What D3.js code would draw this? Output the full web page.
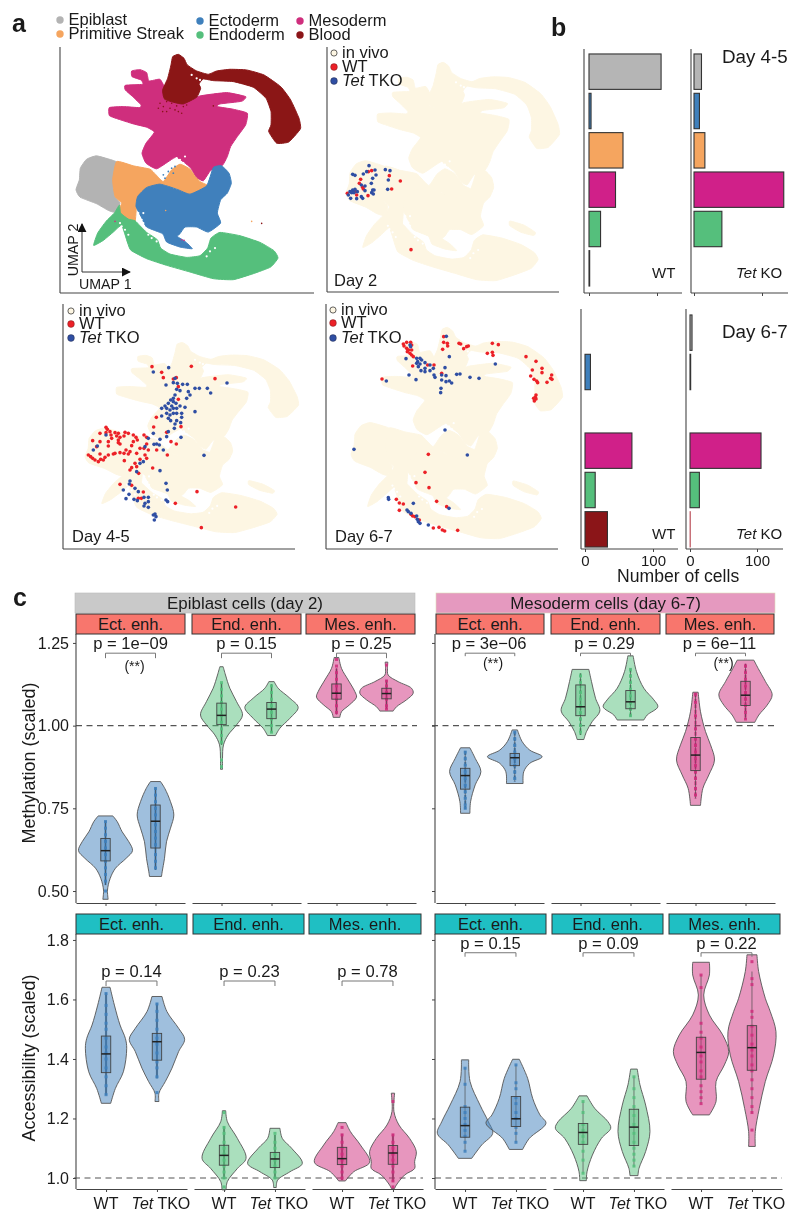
<!DOCTYPE html>
<html><head><meta charset="utf-8">
<script src="https://cdn.jsdelivr.net/npm/d3@7"></script>
<style>html,body{margin:0;padding:0;background:#fff}svg{display:block;filter:blur(.3px)}text{font-family:"Liberation Sans",Arial,sans-serif;fill:#1a1a1a}</style>
</head><body><div id="c"></div>
<script>
// ---------- panel a: cell-type regions in UMAP units ----------
const cellTypes=["Epiblast","Primitive Streak","Ectoderm","Endoderm","Mesoderm","Blood"];
const cellColors={"Epiblast":"#B3B3B3","Primitive Streak":"#F5A55F","Ectoderm":"#3F80BC","Endoderm":"#55BF7C","Mesoderm":"#CF2E7D","Blood":"#8B1518"};
const regionEpiblast=[[290,468],[340,482],[352,490],[340,540],[345,590],[360,610],[345,637],[325,632],[290,612],[240,592],[228,570],[238,540],[241,505],[260,478]];
const regionStreak=[[350,485],[400,498],[450,508],[468,525],[490,545],[515,510],[540,493],[570,508],[600,545],[628,560],[590,582],[560,587],[530,567],[490,557],[440,567],[420,590],[410,615],[405,667],[385,662],[353,640],[365,610],[345,590],[338,540]];
const regionMesoderm=[[395,213],[420,209],[440,218],[447,243],[480,238],[497,270],[492,298],[550,308],[600,288],[680,278],[737,290],[725,304],[660,312],[652,320],[700,328],[742,340],[737,375],[712,410],[692,440],[682,470],[667,497],[632,512],[610,543],[590,532],[570,502],[530,472],[510,482],[470,507],[438,490],[426,460],[438,430],[463,397],[440,382],[400,372],[350,356],[328,347],[328,323],[370,320],[418,323],[423,315],[398,290],[376,270],[376,256],[428,253],[423,240],[396,230]];
const regionEctoderm=[[640,503],[665,498],[687,520],[694,550],[682,580],[662,600],[652,640],[662,670],[625,697],[590,682],[555,682],[540,702],[532,710],[555,725],[577,747],[540,742],[500,727],[488,702],[440,682],[423,650],[408,620],[413,590],[440,563],[480,553],[530,568],[570,583],[620,558]];
const regionEndoderm=[[358,616],[343,640],[318,665],[293,700],[281,737],[310,722],[340,697],[365,677],[383,730],[393,752],[440,777],[500,797],[570,817],[640,837],[700,840],[760,822],[812,802],[834,775],[822,753],[780,728],[720,708],[660,698],[633,715],[623,745],[600,768],[560,773],[510,763],[482,745],[472,720],[440,698],[420,678],[405,663],[385,658],[362,640]];
const regionBlood=[[535,163],[518,170],[513,195],[503,235],[488,270],[493,297],[520,307],[550,312],[590,292],[602,265],[597,252],[610,237],[640,242],[700,245],[760,262],[798,295],[813,335],[813,375],[806,395],[830,430],[865,427],[887,405],[902,385],[897,355],[872,300],[842,260],[792,225],[740,210],[690,208],[650,213],[625,223],[590,213],[562,195],[552,175]];
const regionStrip=[[745,655],[790,668],[825,690],[820,700],[780,690],[745,670]];
const speckBlood=[[480,310],[490,320],[500,305],[510,325],[525,330],[535,335],[550,320],[545,340],[560,315],[475,325],[488,335],[515,310],[530,318],[500,335],[785,671],[640,318]];
const speckHoles=[[540,480],[550,490],[520,490],[555,470],[530,475],[365,680],[375,690],[385,705],[360,670],[445,705],[455,715],[470,725],[415,640],[425,660],[430,640],[430,670],[590,235],[600,240],[575,225],[620,770],[630,755],[645,745],[565,695],[575,690]];
const speckBlue=[[515,505],[505,515],[525,500],[495,535],[520,520],[490,525]];
const speckOrange=[[755,665],[497,632]];
const speckPink=[[345,665],[545,720],[552,722]];

// ---------- single-cell projections per timepoint ----------
const day2WT=[[142,580],[182,538],[178,550],[188,562],[205,515],[215,512],[268,527],[301,543],[275,567],[204,587],[170,585],[158,575],[333,749],[165,575],[190,567]];
const day2TKO=[[207,497],[158,523],[165,526],[190,522],[200,515],[225,510],[228,525],[218,535],[256,509],[270,512],[265,540],[263,568],[214,550],[195,558],[184,555],[195,572],[218,570],[222,570],[215,578],[220,582],[165,568],[158,570],[150,575],[155,578],[145,585],[152,595],[170,596],[184,590],[188,595],[172,575],[162,578]];
const day45WT=[[456,200],[574,199],[485,217],[490,233],[529,233],[520,237],[645,236],[535,260],[535,298],[469,352],[461,381],[543,380],[502,465],[591,575],[526,610],[707,621],[604,683],[395,556],[360,553],[430,576],[415,595],[424,595],[458,504],[410,500],[416,520],[513,425],[529,432],[500,397],[318,382],[322,388],[330,395],[345,398],[355,400],[375,397],[385,400],[300,400],[318,398],[333,405],[350,408],[360,412],[372,408],[400,405],[408,412],[432,405],[440,412],[278,422],[300,425],[325,425],[335,415],[355,420],[400,425],[412,420],[290,440],[325,438],[360,432],[395,437],[378,450],[440,432],[432,445],[445,450],[470,450],[420,445],[265,465],[272,470],[278,475],[285,480],[295,485],[302,478],[315,472],[325,465],[345,460],[360,458],[372,460],[385,462],[390,455],[410,460],[435,465],[420,478],[373,482],[440,475],[405,490],[395,503],[390,510],[355,428],[300,462],[310,480],[340,462]];
const day45TKO=[[506,203],[460,216],[525,235],[520,248],[532,250],[498,255],[548,253],[562,253],[530,268],[540,272],[585,265],[598,265],[622,265],[632,279],[681,249],[565,275],[570,285],[525,285],[520,295],[560,295],[512,300],[505,310],[520,305],[528,310],[515,318],[495,318],[485,325],[500,325],[510,330],[520,325],[530,325],[540,318],[555,322],[585,335],[500,340],[485,348],[510,345],[520,340],[530,340],[545,340],[545,352],[505,355],[512,362],[530,362],[542,368],[525,372],[523,385],[505,395],[543,412],[500,410],[480,418],[460,400],[445,415],[470,432],[478,435],[462,433],[435,440],[490,450],[612,466],[318,405],[292,438],[280,450],[430,485],[420,490],[480,512],[410,515],[390,543],[498,550],[502,570],[388,552],[405,565],[415,575],[370,570],[387,583],[378,596],[402,598],[412,602],[432,592],[445,592],[445,605],[435,610],[432,618],[445,622],[498,600],[503,605],[460,645],[465,642],[463,660],[468,650]];
const day67WT=[[401,110],[401,127],[412,130],[413,138],[398,148],[447,130],[452,132],[461,146],[470,140],[475,138],[547,130],[565,134],[532,160],[547,157],[549,166],[648,170],[678,184],[696,205],[667,210],[696,218],[725,225],[722,235],[726,238],[662,228],[672,238],[680,243],[683,248],[711,247],[678,285],[676,292],[671,295],[678,297],[673,303],[372,195],[353,195],[395,220],[308,198],[216,237],[280,132],[290,127],[302,127],[305,135],[282,138],[290,145],[296,150],[305,150],[292,155],[300,160],[305,165],[310,170],[355,463],[345,517],[318,548],[357,563],[259,598],[268,609],[280,612],[268,631],[380,604],[410,620],[303,643],[308,648],[370,684],[387,682],[397,690],[404,693],[443,691],[315,650],[328,660]];
const day67TKO=[[409,109],[418,170],[288,176],[302,140],[300,135],[320,175],[330,175],[335,180],[323,185],[320,190],[330,192],[345,188],[360,195],[370,205],[325,200],[345,205],[360,212],[333,212],[345,215],[405,203],[556,192],[297,225],[318,239],[229,243],[372,225],[375,232],[395,225],[408,227],[395,240],[408,245],[418,243],[425,249],[440,223],[450,222],[480,232],[507,235],[393,265],[392,278],[405,390],[132,448],[472,465],[235,593],[236,598],[310,610],[291,630],[295,635],[303,640],[320,648],[322,658],[325,665],[330,670],[355,675],[417,625]];

// ---------- panel b: number of cells ----------
const barCategories=["Epiblast","Ectoderm","Primitive Streak","Mesoderm","Endoderm","Blood"];
const barDay45WT=[106,3,50,39,17,1];
const barDay45KO=[11,8,16,132,41,null];
const barDay67WT=[null,8,null,69,15,33];
const barDay67KO=[3,1,null,106,14,0.5];
const barColors=["#B5B5B5","#3F80BC","#F5A55F","#D02089","#55BF7C","#8B1518"];

// ---------- panel c: violins. y = profile values, w = profile half width, box = [q3,median,q1,whiskerHigh,whiskerLow] ----------
const groupLabels=["WT","Tet TKO"];
const methEpiEct=[
 {y:[.727,.710,.679,.649,.622,.599,.569,.538,.503,.475],w:[22,35,50,70,81,62,30,14,6,8],box:[.659,.622,.591,.712,.518],pts:[.71,.69,.67,.65,.63,.61,.59,.57,.55,.53,.50]},
 {y:[.831,.810,.770,.730,.690,.649,.599,.558,.544],w:[15,28,45,55,45,33,27,20,18],box:[.760,.711,.630,.813,.564],pts:[.81,.79,.77,.75,.73,.70,.68,.66,.64,.61,.59,.57]}];
const methEpiEnd=[
 {y:[1.178,1.153,1.113,1.073,1.032,1.002,.972,.942,.901,.868],w:[5,12,25,45,63,45,20,6,3,3],box:[1.068,1.031,1.003,1.128,.942],pts:[1.13,1.11,1.09,1.07,1.05,1.03,1.01,.99,.97,.95,.896,.876]},
 {y:[1.133,1.113,1.083,1.055,1.022,.992,.970],w:[8,20,55,80,55,25,12],box:[1.070,1.050,1.021,1.125,.979],pts:[1.12,1.10,1.08,1.06,1.04,1.02,1.0,.98]}];
const methEpiMes=[
 {y:[1.206,1.173,1.138,1.103,1.086,1.062,1.042,1.025],w:[7,15,35,55,60,38,15,10],box:[1.126,1.098,1.080,1.173,1.034],pts:[1.20,1.18,1.16,1.14,1.12,1.10,1.08,1.06,1.04]},
 {y:[1.192,1.173,1.153,1.133,1.113,1.098,1.078,1.057,1.044],w:[4,3,5,35,75,80,60,30,20],box:[1.113,1.097,1.081,1.138,1.050],pts:[1.183,1.135,1.12,1.10,1.08,1.06,1.05]}];
const methMesEct=[
 {y:[.933,.901,.861,.821,.770,.735],w:[14,30,47,30,16,14],box:[.871,.849,.808,.923,.748],pts:[.92,.90,.88,.86,.84,.82,.80,.78,.76,.75]},
 {y:[.987,.952,.926,.906,.886,.861,.825],w:[8,22,45,82,45,27,25],box:[.916,.903,.879,.982,.831],pts:[.98,.96,.94,.92,.90,.88,.86,.84]}];
const methMesEnd=[
 {y:[1.170,1.133,1.083,1.044,1.012,.982,.958],w:[25,33,45,58,35,18,10],box:[1.123,1.057,1.030,1.158,.972],pts:[1.15,1.13,1.10,1.08,1.06,1.04,1.02,1.0,.98]},
 {y:[1.211,1.163,1.113,1.078,1.057,1.032,1.017],w:[8,18,40,70,82,50,40],box:[1.106,1.072,1.051,1.173,1.027],pts:[1.17,1.15,1.13,1.11,1.09,1.07,1.05,1.03]}];
const methMesMes=[
 {y:[1.101,1.042,.982,.942,.896,.851,.810,.759],w:[8,15,30,45,57,40,22,15],box:[.964,.911,.864,1.098,.780],pts:[1.095,1.07,1.03,.99,.96,.94,.92,.90,.88,.86,.84,.81,.79]},
 {y:[1.198,1.173,1.133,1.093,1.062,1.032,1.010],w:[25,38,60,80,65,40,28],box:[1.134,1.092,1.061,1.187,1.020],pts:[1.18,1.16,1.14,1.12,1.10,1.08,1.06,1.04,1.02]}];
const accEpiEct=[
 {y:[1.641,1.581,1.514,1.469,1.436,1.357,1.301,1.251],w:[12,25,42,58,62,52,28,14],box:[1.477,1.417,1.354,1.621,1.279],pts:[1.62,1.58,1.55,1.52,1.50,1.47,1.44,1.42,1.40,1.37,1.34,1.31,1.28]},
 {y:[1.610,1.559,1.503,1.466,1.425,1.369,1.324,1.285,1.257],w:[15,30,65,83,65,45,25,6,6],box:[1.486,1.458,1.396,1.587,1.335],pts:[1.585,1.56,1.53,1.50,1.47,1.45,1.42,1.39,1.37,1.34,1.287]}];
const accEpiEnd=[
 {y:[1.226,1.189,1.133,1.066,1.032,.988,.960],w:[5,10,40,66,40,10,6],box:[1.110,1.076,1.043,1.173,.997],pts:[1.22,1.17,1.15,1.12,1.10,1.08,1.06,1.04,1.02,1.0,.97]},
 {y:[1.167,1.133,1.100,1.049,1.021,.993,.968],w:[15,22,50,82,45,8,4],box:[1.086,1.064,1.035,1.145,.999],pts:[1.15,1.12,1.10,1.08,1.06,1.04,1.02,1.0]}];
const accEpiMes=[
 {y:[1.186,1.156,1.111,1.053,1.021,.990],w:[12,25,55,83,35,10],box:[1.103,1.065,1.045,1.148,.993],pts:[1.17,1.145,1.12,1.10,1.08,1.06,1.04,1.02,1.0]},
 {y:[1.285,1.223,1.178,1.133,1.089,1.055,1.032,1.010,.976,.965],w:[5,3,18,50,70,65,65,35,10,5],box:[1.109,1.084,1.046,1.147,.988],pts:[1.257,1.145,1.12,1.10,1.08,1.06,1.04,1.02,.99,.97]}];
const accMesEct=[
 {y:[1.397,1.324,1.245,1.189,1.150,1.111,1.066],w:[11,15,45,70,83,50,20],box:[1.238,1.176,1.137,1.369,1.092],pts:[1.369,1.315,1.24,1.22,1.20,1.18,1.16,1.14,1.12,1.09]},
 {y:[1.399,1.335,1.268,1.212,1.184,1.133,1.096],w:[10,35,50,72,90,40,20],box:[1.274,1.199,1.173,1.380,1.120],pts:[1.38,1.32,1.30,1.27,1.25,1.22,1.20,1.17,1.15,1.12]}];
const accMesEnd=[
 {y:[1.276,1.234,1.189,1.167,1.133,1.077,1.021,.991],w:[12,35,75,83,55,28,12,10],box:[1.183,1.153,1.113,1.257,1.016],pts:[1.257,1.22,1.18,1.16,1.14,1.12,1.09,1.06,1.016]},
 {y:[1.366,1.313,1.245,1.156,1.089,1.032,1.008],w:[10,18,35,48,35,15,12],box:[1.231,1.171,1.109,1.341,1.038],pts:[1.34,1.30,1.27,1.24,1.21,1.18,1.15,1.12,1.10,1.08,1.06,1.04]}];
const accMesMes=[
 {y:[1.725,1.682,1.615,1.548,1.481,1.425,1.380,1.324,1.257,1.212],w:[25,25,8,25,65,83,70,45,45,25],box:[1.473,1.422,1.332,1.682,1.251],pts:[1.682,1.64,1.52,1.49,1.47,1.44,1.41,1.39,1.36,1.34,1.31,1.29,1.27,1.25]},
 {y:[1.750,1.694,1.604,1.559,1.492,1.413,1.324,1.234,1.156,1.106],w:[15,20,40,55,72,65,40,22,10,10],box:[1.512,1.438,1.362,1.694,1.217],pts:[1.727,1.67,1.65,1.56,1.54,1.51,1.48,1.45,1.43,1.41,1.38,1.36,1.33,1.30,1.27,1.24,1.22,1.161]}];
const enhLabels=["Ect. enh.","End. enh.","Mes. enh."];
const pMethEpi=["p = 1e\u221209","p = 0.15","p = 0.25"];
const pMethMes=["p = 3e\u221206","p = 0.29","p = 6e\u221211"];
const pAccEpi=["p = 0.14","p = 0.23","p = 0.78"];
const pAccMes=["p = 0.15","p = 0.09","p = 0.22"];
const starsMethEpi=["(**)",null,null];
const starsMethMes=["(**)",null,"(**)"];
const methTicks=[0.5,0.75,1.0,1.25];
const accTicks=[1.0,1.2,1.4,1.6,1.8];

// ---------- drawing ----------
const svg=d3.select("#c").append("svg").attr("width",800).attr("height",1222);
const defs=svg.append("defs");
const rough=defs.append("filter").attr("id","rough").attr("x","-5%").attr("y","-5%").attr("width","110%").attr("height","110%");
rough.append("feTurbulence").attr("type","fractalNoise").attr("baseFrequency",.8).attr("numOctaves",1).attr("seed",3).attr("result","n");
rough.append("feDisplacementMap").attr("in","SourceGraphic").attr("in2","n").attr("scale",1.3);
const lab=(t,x,y,s,o={})=>{const e=svg.append("text").attr("x",x).attr("y",y).attr("font-size",s).text(t);
 if(o.anchor)e.attr("text-anchor",o.anchor); if(o.bold)e.attr("font-weight","bold"); if(o.rot)e.attr("transform",`rotate(-90 ${x} ${y})`); return e;};
const tet=(x,y,s,rest,anchor)=>{const e=svg.append("text").attr("x",x).attr("y",y).attr("font-size",s);
 if(anchor)e.attr("text-anchor",anchor);
 e.append("tspan").attr("font-style","italic").text("Tet"); e.append("tspan").text(rest); return e;};
const hline=(x1,x2,y,g=svg)=>g.append("line").attr("x1",x1).attr("x2",x2).attr("y1",y).attr("y2",y).attr("stroke","#444").attr("stroke-width",1.1);
const vline=(x,y1,y2,g=svg)=>g.append("line").attr("x1",x).attr("x2",x).attr("y1",y1).attr("y2",y2).attr("stroke","#444").attr("stroke-width",1.1);

lab("a",12,32,25,{bold:true}); lab("b",551,36,25,{bold:true}); lab("c",13,606,25,{bold:true});

// panel a
const ax=d3.scaleLinear().domain([228,900]).range([76,300]);
const ay=d3.scaleLinear().domain([165,838]).range([55,279]);
const poly=(sx,sy)=>d3.line().x(d=>sx(d[0])).y(d=>sy(d[1])).curve(d3.curveCardinalClosed.tension(.55));
const regionsA=svg.append("g").attr("filter","url(#rough)");
[[regionEpiblast,"Epiblast"],[regionStreak,"Primitive Streak"],[regionMesoderm,"Mesoderm"],[regionEndoderm,"Endoderm"],[regionEctoderm,"Ectoderm"],[regionBlood,"Blood"]].forEach(([r,n])=>{
 regionsA.append("path").attr("d",poly(ax,ay)(r)).attr("fill",cellColors[n]).attr("stroke",cellColors[n]).attr("stroke-width",1).attr("stroke-linejoin","round");});
const specks=(data,col,sx,sy,r)=>svg.append("g").selectAll("circle").data(data).join("circle").attr("cx",d=>sx(d[0])).attr("cy",d=>sy(d[1])).attr("r",r).attr("fill",col);
specks(speckHoles,"#fff",ax,ay,1.1); specks(speckBlood,cellColors.Blood,ax,ay,.8); specks(speckBlue,cellColors.Ectoderm,ax,ay,.9); specks(speckOrange,cellColors["Primitive Streak"],ax,ay,.8); specks(speckPink,cellColors.Mesoderm,ax,ay,.8);
vline(60,47,293); hline(60,314,293);
const legendA=[[60,20,cellTypes[0]],[60,34,cellTypes[1]],[200,21,cellTypes[2]],[200,35,cellTypes[3]],[300,21,cellTypes[4]],[300,35,cellTypes[5]]];
legendA.forEach(([x,y,t])=>{svg.append("circle").attr("cx",x).attr("cy",y).attr("r",3.7).attr("fill",cellColors[t]);lab(t,x+8.5,y+5,16.5);});
defs.append("marker").attr("id","arr").attr("viewBox","0 0 10 10").attr("refX",9).attr("refY",5).attr("markerWidth",9).attr("markerHeight",9).attr("markerUnits","userSpaceOnUse").attr("orient","auto").append("path").attr("d","M0,0L10,5L0,10Z").attr("fill","#111");
[[82,272,82,224],[82,272,130,272]].forEach(a=>svg.append("line").attr("x1",a[0]).attr("y1",a[1]).attr("x2",a[2]).attr("y2",a[3]).attr("stroke","#333").attr("stroke-width",1).attr("marker-end","url(#arr)"));
lab("UMAP 1",79,289,14.2); lab("UMAP 2",78,250,14.2,{rot:true,anchor:"middle"});

// projection panels
const panels=[
 {bx:[346,559],by:[63,280],crop:[300,0],wt:day2WT,ko:day2TKO,axX:327,axY:[47,292],axR:559,lg:[334,53,67,81],title:"Day 2",tp:[334,286]},
 {bx:[85,298],by:[343,532],crop:[0,300],wt:day45WT,ko:day45TKO,axX:63,axY:[304,549],axR:295,lg:[71,311,324,338],title:"Day 4-5",tp:[72,542]},
 {bx:[351,562],by:[328,538],crop:[310,300],wt:day67WT,ko:day67TKO,axX:326,axY:[304,549],axR:558,lg:[333,310,323,338],title:"Day 6-7",tp:[335,542]}];
panels.forEach(p=>{
 const sx=d3.scaleLinear().domain([228,900]).range(p.bx), sy=d3.scaleLinear().domain([165,838]).range(p.by);
 const bg=svg.append("g").attr("filter","url(#rough)");
 [regionEpiblast,regionStreak,regionMesoderm,regionEndoderm,regionEctoderm,regionBlood,regionStrip].forEach(r=>
  bg.append("path").attr("d",poly(sx,sy)(r)).attr("fill","#FDF6E3").attr("stroke","#FDF6E3").attr("stroke-width",1).attr("stroke-linejoin","round"));
 specks(speckHoles,"#fff",sx,sy,1.1);
 vline(p.axX,p.axY[0],p.axY[1]); hline(p.axX,p.axR,p.axY[1]);
 const px=d3.scaleLinear().domain([0,3]).range([p.crop[0],p.crop[0]+1]), py=d3.scaleLinear().domain([0,3]).range([p.crop[1],p.crop[1]+1]);
 specks(p.wt,"#EC2027",px,py,1.8); specks(p.ko,"#2F4EA3",px,py,1.8);
 const [lx,y0,y1,y2]=p.lg;
 svg.append("circle").attr("cx",lx).attr("cy",y0).attr("r",3.1).attr("fill","#FDF6E3").attr("stroke","#222").attr("stroke-width",.7);
 svg.append("circle").attr("cx",lx).attr("cy",y1).attr("r",3.4).attr("fill","#EC2027").attr("stroke","#522").attr("stroke-width",.4);
 svg.append("circle").attr("cx",lx).attr("cy",y2).attr("r",3.4).attr("fill","#2F4EA3").attr("stroke","#223").attr("stroke-width",.4);
 lab("in vivo",lx+8,y0+5,16.5); lab("WT",lx+8,y1+5,16.5); tet(lx+8,y2+5,16.5," TKO");
 lab(p.title,p.tp[0],p.tp[1],16.5);
});

// panel b
const barPanels=[
 {v:barDay45WT,x0:589,x100:657,ax:584,top:49,bot:293,right:682,band:[52,288]},
 {v:barDay45KO,x0:694,x100:762,ax:691,top:49,bot:293,right:788,band:[52,288]},
 {v:barDay67WT,x0:585,x100:653,ax:581,top:309,bot:549,right:678,band:[313,549],labels:true},
 {v:barDay67KO,x0:690,x100:757,ax:686,top:309,bot:549,right:783,band:[313,549],labels:true}];
barPanels.forEach(p=>{
 const x=d3.scaleLinear().domain([0,100]).range([p.x0,p.x100]);
 const y=d3.scaleBand().domain(barCategories).range(p.band).paddingInner(.1).paddingOuter(.05);
 barCategories.forEach((c,i)=>{ if(p.v[i]==null)return;
  svg.append("rect").attr("x",x(0)).attr("y",y(c)).attr("width",x(p.v[i])-x(0)).attr("height",y.bandwidth()).attr("fill",barColors[i])
   .attr("stroke",p.v[i]<1?"#C4606A":"#333").attr("stroke-width",p.v[i]<1?.9:1.1);});
 vline(p.ax,p.top,p.bot);
 const g=svg.append("g").attr("transform",`translate(0,${p.bot})`);
 const axis=d3.axisBottom(x).tickValues([0,100]).tickSize(3).tickSizeOuter(0).tickFormat(p.labels?d3.format("d"):"");
 g.call(axis); g.select(".domain").remove(); g.selectAll("line").attr("stroke","#444");
 g.selectAll("text").attr("font-size",15).attr("dy",".75em");
 hline(p.ax,p.right,p.bot);
});
lab("Day 4-5",722,63,18.8); lab("Day 6-7",722,338,18.8);
lab("WT",652,278,15); tet(736,278,15," KO"); lab("WT",652,539,15); tet(736,539,15," KO");
lab("Number of cells",617,582,17.6);

// panel c
const violinColors=["#3F80BC","#55BF7C","#CF2E7D"];
const yMeth=d3.scaleLinear().domain([.4638,1.277]).range([903,634]);
const yAcc=d3.scaleLinear().domain([.963,1.82]).range([1189,934]);
const wScale=d3.scaleLinear().domain([0,83]).range([0,27.67]);
function strip(x0,x1,y0,y1,fill,t,stroke,size){
 svg.append("rect").attr("x",x0).attr("y",y0).attr("width",x1-x0).attr("height",y1-y0).attr("fill",fill).attr("stroke",stroke||"#333").attr("stroke-width",stroke?0.6:1);
 lab(t,(x0+x1)/2,y0+(y1-y0)/2+5.8,size||16.5,{anchor:"middle"});
}
strip(75,415,593,613,"#C9C9C9","Epiblast cells (day 2)","#bbb",16.9);
strip(436,775,593,613,"#E599BF","Mesoderm cells (day 6-7)","#ddb",16.9);

function block(o){
 const y=o.y;
 // dashed reference at 1.0
 o.dash&&svg.append("line").attr("x1",o.dash[0]).attr("x2",o.dash[1]).attr("y1",y(1)).attr("y2",y(1)).attr("stroke","#555").attr("stroke-width",1.1).attr("stroke-dasharray","6 4.5");
 // left axis
 const g=svg.append("g").attr("transform",`translate(${o.axX},0)`);
 g.call(d3.axisLeft(y).tickValues(o.ticks).tickSize(3).tickSizeOuter(0).tickFormat(o.fmt||""));
 g.select(".domain").attr("stroke","#444").attr("stroke-width",1.1).attr("d",`M0,${o.bot}V${o.top}`);
 g.selectAll("line").attr("stroke","#444");
 g.selectAll("text").attr("font-size",16).attr("dx","-1");
 o.panels.forEach((p,k)=>{
  strip(p.s[0],p.s[1],o.stripY[0],o.stripY[1],o.stripFill,enhLabels[k]);
  const x=d3.scalePoint().domain(groupLabels).range(p.r).padding(.59);
  const xa=svg.append("g").attr("transform",`translate(0,${o.bot})`);
  xa.call(d3.axisBottom(x).tickSize(3).tickSizeOuter(0).tickFormat(""));
  xa.select(".domain").attr("stroke","#444").attr("stroke-width",1.1);
  xa.selectAll("line").attr("stroke","#444");
  if(o.xlabels){lab("WT",x("WT"),o.bot+20,16,{anchor:"middle"});tet(x("Tet TKO")+4,o.bot+20,16," TKO","middle");}
  const col=violinColors[k];
  p.data.forEach((v,i)=>{
   const cx=x(groupLabels[i]);
   const rows=v.y.map((d,j)=>({y:d,w:v.w[j]}));
   svg.append("path").datum(rows).attr("d",d3.area().y(d=>y(d.y)).x0(d=>cx-wScale(d.w)).x1(d=>cx+wScale(d.w)).curve(d3.curveCatmullRom.alpha(.5)))
    .attr("fill",col).attr("fill-opacity",.5).attr("stroke","#555").attr("stroke-width",.9);
   const [q3,med,q1,hi,lo]=v.box;
   if(o.style!=="thin") svg.append("line").attr("x1",cx).attr("x2",cx).attr("y1",y(hi)).attr("y2",y(lo)).attr("stroke",col).attr("stroke-width",2.2).attr("stroke-opacity",.85).attr("stroke-dasharray",o.style==="dash"?"4 1.5":null);
   svg.append("line").attr("x1",cx).attr("x2",cx).attr("y1",y(hi)).attr("y2",y(lo)).attr("stroke","#444").attr("stroke-width",.8).attr("stroke-opacity",.8);
   svg.append("g").selectAll("rect").data(v.pts).join("rect").attr("x",cx-1.5).attr("y",d=>y(d)-1.5).attr("width",3).attr("height",3).attr("fill",col).attr("opacity",.85);
   svg.append("rect").attr("x",cx-4.7).attr("width",9.4).attr("y",y(q3)).attr("height",y(q1)-y(q3)).attr("fill",col).attr("fill-opacity",.4).attr("stroke","#444").attr("stroke-width",.9);
   svg.append("line").attr("x1",cx-4.7).attr("x2",cx+4.7).attr("y1",y(med)).attr("y2",y(med)).attr("stroke","#222").attr("stroke-width",1.5);
  });
  // significance bracket
  const bx0=x(groupLabels[0]),bx1=x(groupLabels[1]),by=y(o.bracket);
  svg.append("path").attr("d",d3.line()([[bx0,by+o.tick],[bx0,by],[bx1,by],[bx1,by+o.tick]])).attr("fill","none").attr("stroke","#777").attr("stroke-width",1);
  lab(o.p[k],(bx0+bx1)/2+o.pdx,by-4,16.6,{anchor:"middle"});
  if(o.stars&&o.stars[k]) lab(o.stars[k],(bx0+bx1)/2+(o.sdx||0),o.starY,14,{anchor:"middle"});
 });
}
const f2=d3.format(".2f"), f1=d3.format(".1f");
block({y:yMeth,axX:76,top:634,bot:903,ticks:methTicks,fmt:f2,dash:[76,417],stripY:[614,634],stripFill:"#F8766D",style:"thick",bracket:1.219,tick:5,p:pMethEpi,pdx:0,stars:starsMethEpi,starY:671,sdx:4,
 panels:[{s:[76,185],r:[76,185],data:methEpiEct},{s:[192,301],r:[192,301],data:methEpiEnd},{s:[306,415],r:[307,416],data:methEpiMes}]});
block({y:yMeth,axX:435,top:634,bot:903,ticks:methTicks,dash:[432,776],stripY:[614,634],stripFill:"#F8766D",style:"dash",bracket:1.219,tick:3,p:pMethMes,pdx:-1,stars:starsMethMes,starY:668,sdx:3,
 panels:[{s:[436,544],r:[436,544],data:methMesEct},{s:[551,660],r:[551,660],data:methMesEnd},{s:[666,774],r:[666,775],data:methMesMes}]});
block({y:yAcc,axX:76,top:934,bot:1189,ticks:accTicks,fmt:f1,dash:[74,423],stripY:[914,934],stripFill:"#1FBFC3",style:"thick",bracket:1.662,tick:5,p:pAccEpi,pdx:0,xlabels:true,
 panels:[{s:[76,187],r:[76,187],data:accEpiEct},{s:[193,304],r:[194,305],data:accEpiEnd},{s:[309,421],r:[312,423],data:accEpiMes}]});
block({y:yAcc,axX:435,top:934,bot:1189,ticks:accTicks,dash:[435,782],stripY:[914,934],stripFill:"#1FBFC3",style:"thin",bracket:1.757,tick:4,p:pAccMes,pdx:0,xlabels:true,
 panels:[{s:[435,546],r:[435,546],data:accMesEct},{s:[552,663],r:[553,664],data:accMesEnd},{s:[669,780],r:[671,782],data:accMesMes}]});
lab("Methylation (scaled)",35,763,18,{rot:true,anchor:"middle"});
lab("Accessibility (scaled)",35,1058,18,{rot:true,anchor:"middle"});
</script></body></html>
